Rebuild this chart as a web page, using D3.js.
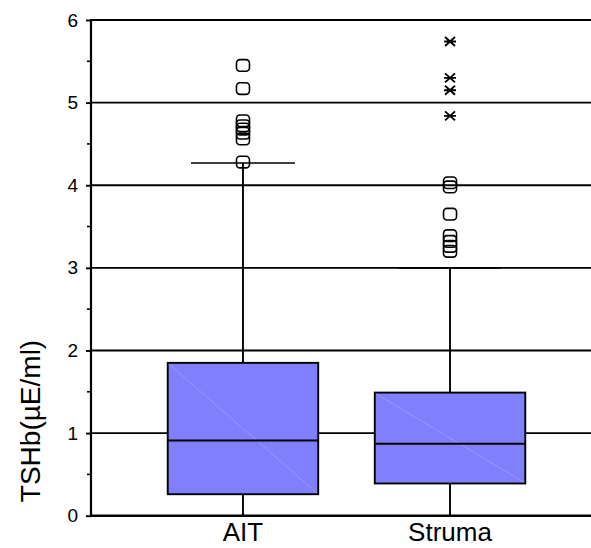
<!DOCTYPE html>
<html><head><meta charset="utf-8">
<script src="https://cdn.jsdelivr.net/npm/d3@7"></script>
<style>body{margin:0;background:#fff}svg{display:block}</style>
</head><body>
<script>
const categories = ["AIT", "Struma"];
const q1 = [0.26, 0.39];
const median = [0.91, 0.87];
const q3 = [1.85, 1.49];
const whiskerLow = [0, 0];
const whiskerHigh = [4.27, 3.0];
const outliersCircle = [
  [5.45, 5.17, 4.78, 4.72, 4.68, 4.63, 4.56, 4.28],
  [4.03, 3.98, 3.65, 3.39, 3.32, 3.26, 3.20]
];
const outliersStar = [
  [],
  [5.74, 5.30, 5.15, 4.84]
];
const yTicks = [0, 1, 2, 3, 4, 5, 6];
const yMinorTicks = [0.5, 1.5, 2.5, 3.5, 4.5, 5.5];

const W = 591, H = 548;
const svg = d3.select("body").append("svg").attr("width", W).attr("height", H);
const font = "'Liberation Sans', Arial, sans-serif";

const y = d3.scaleLinear().domain([0, 6]).range([515.7, 20]);
const x = d3.scalePoint().domain(categories).range([91, 602]).padding(0.734);
const boxW = 150.5, capW = 104;
const axisX = 91;
const sw = 1.9;

// gridlines
svg.append("g").selectAll("line").data(yTicks.filter(d => d > 0)).join("line")
  .attr("x1", axisX).attr("x2", W).attr("y1", d => y(d)).attr("y2", d => y(d))
  .attr("stroke", "#000").attr("stroke-width", sw);

// boxes & whiskers
const g = svg.append("g");
categories.forEach((c, i) => {
  const cx = x(c);
  g.append("line").attr("x1", cx).attr("x2", cx).attr("y1", y(q3[i])).attr("y2", y(whiskerHigh[i]))
    .attr("stroke", "#000").attr("stroke-width", sw);
  g.append("line").attr("x1", cx).attr("x2", cx).attr("y1", y(q1[i])).attr("y2", y(whiskerLow[i]))
    .attr("stroke", "#000").attr("stroke-width", sw);
  g.append("line").attr("x1", cx - capW / 2).attr("x2", cx + capW / 2)
    .attr("y1", y(whiskerHigh[i])).attr("y2", y(whiskerHigh[i]))
    .attr("stroke", "#000").attr("stroke-width", 1.6);
  g.append("rect").attr("x", cx - boxW / 2).attr("y", y(q3[i]))
    .attr("width", boxW).attr("height", y(q1[i]) - y(q3[i]))
    .attr("fill", "#8080ff").attr("stroke", "#000").attr("stroke-width", sw);
  g.append("line").attr("x1", cx - boxW / 2 + 1).attr("y1", y(q3[i]) + 1)
    .attr("x2", cx + boxW / 2 - 1).attr("y2", y(q1[i]) - 1)
    .attr("stroke", "#a8a8ff").attr("stroke-width", 0.6);
  g.append("line").attr("x1", cx - boxW / 2).attr("x2", cx + boxW / 2)
    .attr("y1", y(median[i])).attr("y2", y(median[i]))
    .attr("stroke", "#000").attr("stroke-width", sw);
  g.append("g").selectAll("rect").data(outliersCircle[i]).join("rect")
    .attr("x", cx - 6.5).attr("y", d => y(d) - 5.8).attr("width", 13).attr("height", 11.6)
    .attr("rx", 3.5).attr("ry", 3.5)
    .attr("fill", "none").attr("stroke", "#000").attr("stroke-width", 1.6);
  const sg = g.append("g").selectAll("g").data(outliersStar[i]).join("g")
    .attr("transform", d => `translate(${cx},${y(d)})`);
  sg.append("path").attr("d", "M-6,0H6M-5,-4.5L5,4.5M-5,4.5L5,-4.5")
    .attr("stroke", "#000").attr("stroke-width", 1.9).attr("fill", "none");
});

// y axis
const yAxis = d3.axisLeft(y).tickValues(yTicks).tickSize(5).tickPadding(8).tickFormat(d3.format("d"));
const ya = svg.append("g").attr("transform", `translate(${axisX},0)`).call(yAxis);
ya.select(".domain").remove();
ya.selectAll("line").attr("stroke", "#000").attr("stroke-width", sw);
ya.selectAll("text").attr("font-family", font).attr("font-size", 19).attr("fill", "#000");
svg.append("g").selectAll("line").data(yMinorTicks).join("line")
  .attr("x1", axisX - 4).attr("x2", axisX).attr("y1", d => y(d)).attr("y2", d => y(d))
  .attr("stroke", "#000").attr("stroke-width", 1.6);
svg.append("line").attr("x1", axisX).attr("x2", axisX).attr("y1", y(6) - 1).attr("y2", y(0) + 1.2)
  .attr("stroke", "#000").attr("stroke-width", 2.2);
svg.append("line").attr("x1", axisX).attr("x2", W).attr("y1", y(0)).attr("y2", y(0))
  .attr("stroke", "#000").attr("stroke-width", 2.4);

// x labels
svg.append("g").selectAll("text").data(categories).join("text")
  .attr("x", d => x(d)).attr("y", 541).attr("text-anchor", "middle")
  .attr("font-family", font).attr("font-size", 26).attr("fill", "#000").text(d => d);

// y title
svg.append("text").attr("transform", `translate(40,421) rotate(-90)`).attr("text-anchor", "middle")
  .attr("font-family", font).attr("font-size", 28).attr("fill", "#000").text("TSHb(µE/ml)");
</script>
</body></html>
